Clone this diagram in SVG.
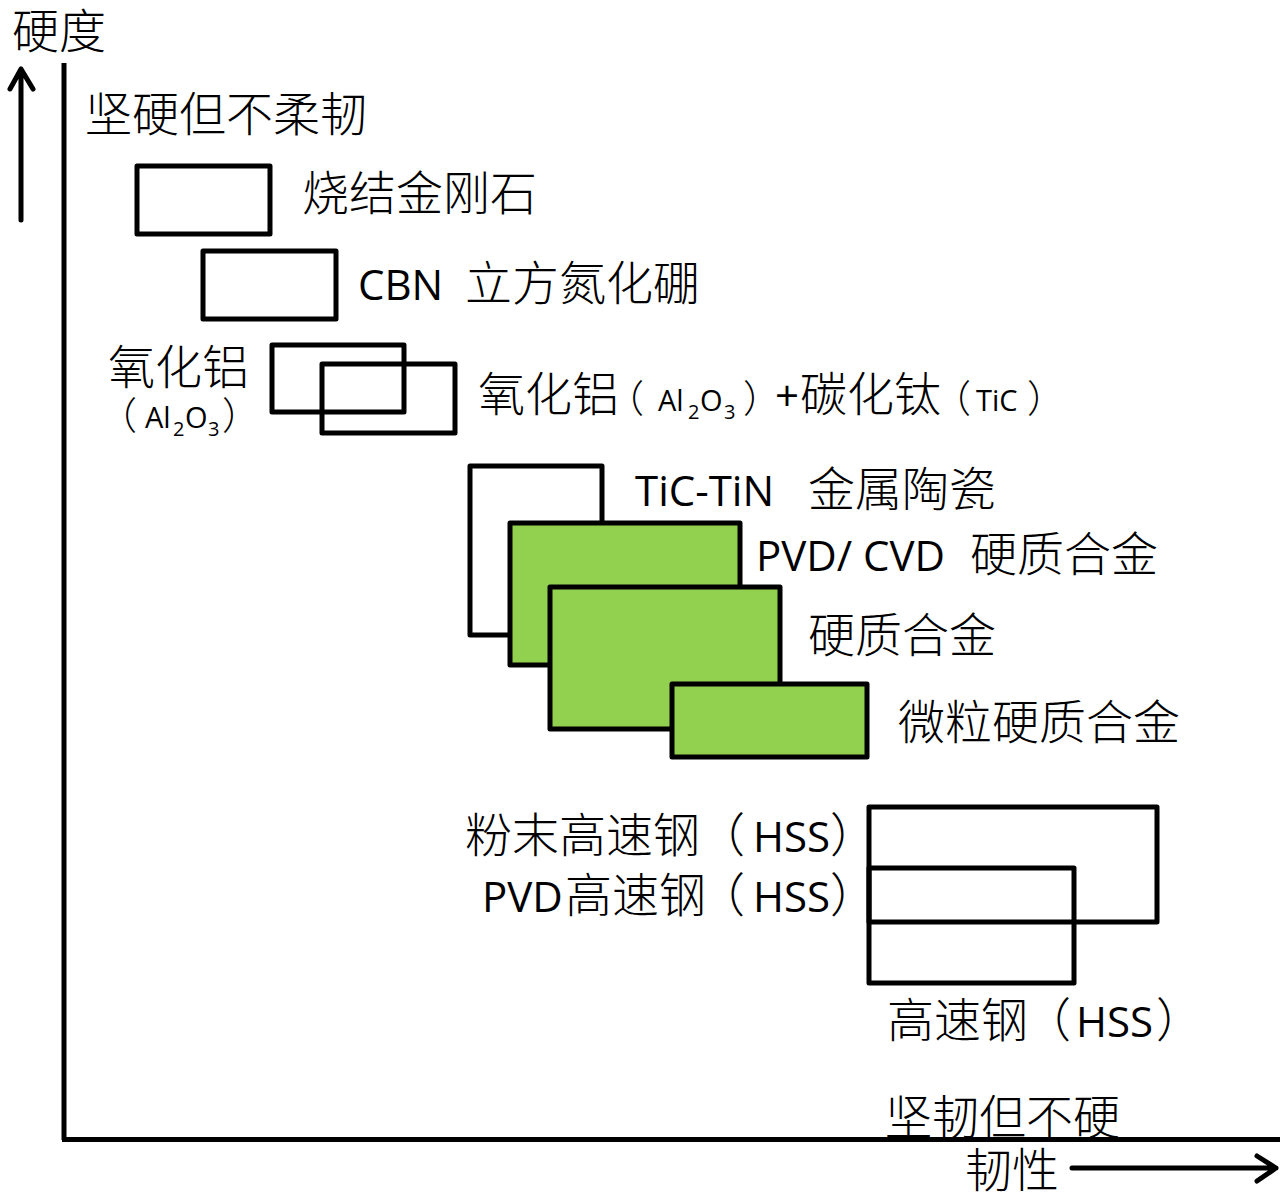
<svg xmlns="http://www.w3.org/2000/svg" width="1280" height="1192" viewBox="0 0 1280 1192">
<style>
.cj{font-family:"Noto Sans CJK SC",sans-serif;font-size:47px;font-weight:300;fill:#000}
.la{font-family:"Open Sans","Noto Sans CJK SC",sans-serif;font-size:42px;fill:#000}
.sm{font-family:"Open Sans",sans-serif;font-size:29px;fill:#000}
.sb{font-family:"Open Sans",sans-serif;font-size:20px;fill:#000}
.pc{font-family:"Noto Sans CJK SC",sans-serif;font-size:38px;font-weight:300;fill:#000}
.box{fill:none;stroke:#000;stroke-width:5;stroke-linejoin:round}
.wbox{fill:#fff;stroke:#000;stroke-width:5;stroke-linejoin:round}
.gbox{fill:#92D050;stroke:#000;stroke-width:5;stroke-linejoin:round}
.ax{fill:none;stroke:#000;stroke-width:5}
.arr{fill:none;stroke:#000;stroke-width:5;stroke-linecap:round;stroke-linejoin:round}
</style>
<rect width="1280" height="1192" fill="#fff"/>
<g id="connectors">
<line class="ax" x1="64" y1="63" x2="64" y2="1140"/>
<line class="ax" x1="62" y1="1139.5" x2="1280" y2="1139.5"/>
<path class="arr" d="M21 220 V69 M10 89 L21 69 L33 89"/>
<path class="arr" d="M1072 1168 H1276 M1257 1156 L1276 1168 L1257 1181"/>
</g>
<g id="axis-labels">
<text class="cj" x="12" y="48">硬度</text>
<text class="cj" x="85" y="131">坚硬但不柔韧</text>
<text class="cj" x="885" y="1134">坚韧但不硬</text>
<text class="cj" x="965" y="1187">韧性</text>
</g>
<g id="pcd">
<rect class="box" x="137" y="166" width="133" height="68"/>
<text class="cj" x="302" y="210">烧结金刚石</text>
</g>
<g id="cbn">
<rect class="box" x="203" y="251" width="133" height="68"/>
<text class="la" x="358" y="300">CBN</text>
<text class="cj" x="465" y="300">立方氮化硼</text>
</g>
<g id="al2o3">
<rect class="box" x="272" y="345" width="132" height="67"/>
<text class="cj" x="108" y="384">氧化铝</text>
<text class="pc" x="99" y="429">（</text>
<text class="sm" x="145" y="428">Al</text>
<text class="sb" x="173" y="436">2</text>
<text class="sm" x="185" y="428">O</text>
<text class="sb" x="208" y="436">3</text>
<text class="pc" x="222" y="429">）</text>
</g>
<g id="al2o3-tic">
<rect class="box" x="322" y="364" width="133" height="69"/>
<text class="cj" x="478" y="411">氧化铝</text>
<text class="pc" x="606" y="412">（</text>
<text class="sm" x="658" y="411">Al</text>
<text class="sb" x="688" y="419">2</text>
<text class="sm" x="700" y="411">O</text>
<text class="sb" x="724" y="419">3</text>
<text class="pc" x="743" y="412">）</text>
<text class="la" x="775" y="411">+</text>
<text class="cj" x="800" y="411">碳化钛</text>
<text class="pc" x="933" y="412">（</text>
<text class="sm" x="976" y="411">TiC</text>
<text class="pc" x="1027" y="412">）</text>
</g>
<g id="cermet">
<rect class="wbox" x="470" y="466" width="132" height="169"/>
<text class="la" x="635" y="506">TiC-TiN</text>
<text class="cj" x="808" y="506">金属陶瓷</text>
</g>
<g id="coated-carbide">
<rect class="gbox" x="510" y="523" width="230" height="142"/>
<text class="la" x="756" y="571">PVD/ CVD</text>
<text class="cj" x="970" y="571">硬质合金</text>
</g>
<g id="carbide">
<rect class="gbox" x="550" y="587" width="230" height="142"/>
<text class="cj" x="808" y="652">硬质合金</text>
</g>
<g id="micrograin-carbide">
<rect class="gbox" x="672" y="684" width="195" height="73"/>
<text class="cj" x="898" y="739">微粒硬质合金</text>
</g>
<g id="pm-hss">
<rect class="box" x="869" y="807" width="288" height="115"/>
<text class="cj" x="465" y="852">粉末高速钢</text>
<text class="cj" x="698" y="852">（</text>
<text class="la" x="753" y="852">HSS</text>
<text class="cj" x="830" y="852">）</text>
</g>
<g id="pvd-hss">
<rect class="box" x="869" y="868" width="205" height="115"/>
<text class="la" x="482" y="912">PVD</text>
<text class="cj" x="565" y="912">高速钢</text>
<text class="cj" x="698" y="912">（</text>
<text class="la" x="753" y="912">HSS</text>
<text class="cj" x="830" y="912">）</text>
</g>
<g id="hss">
<text class="cj" x="887" y="1037">高速钢</text>
<text class="cj" x="1024" y="1037">（</text>
<text class="la" x="1076" y="1037">HSS</text>
<text class="cj" x="1156" y="1037">）</text>
</g>
</svg>
